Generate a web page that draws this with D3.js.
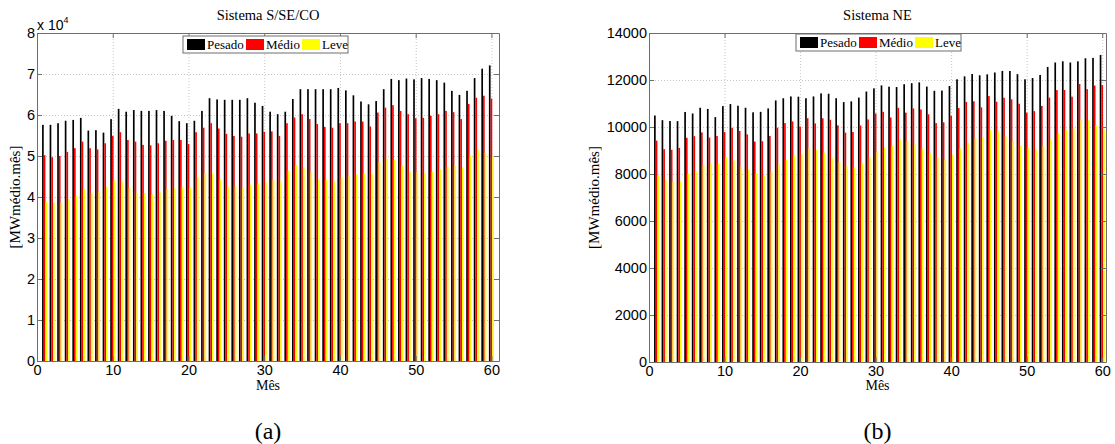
<!DOCTYPE html>
<html lang="pt">
<head>
<meta charset="UTF-8">
<title>Carga por patamar | D3</title>
<style>
    body { margin: 0; background: #fff; }
    .axis text { font-family: "Liberation Sans", Arial, sans-serif; font-size: 14.5px; fill: #000; }
    .axis path, .axis line { stroke: #6e6e6e; }
    .grid line { stroke: #c4c4c4; stroke-dasharray: 1,2; }
    .grid path { stroke: none; }
    .serif { font-family: "Liberation Serif", "Times New Roman", serif; fill: #000; }
</style>
</head>
<body>
<div id="chart"></div>
<script src="https://cdnjs.cloudflare.com/ajax/libs/d3/7.8.5/d3.min.js"></script>
<script>
    // Month numbers and series names
    var months = d3.range(1, 61);
    var seriesNames = ["Pesado", "Médio", "Leve"];
    var seriesColors = ["#000000", "#ff0000", "#ffff00"];

    // Sistema S/SE/CO, MWmédio.mês
    var pesadoSE = [57600, 57600, 58000, 58600, 58800, 59300, 56200, 56300, 55700, 59000,
                    61500, 60800, 61200, 61000, 61000, 61200, 61000, 59800, 58500, 58000,
                    58600, 61000, 64100, 63800, 63700, 63700, 63700, 64100, 63000, 62200,
                    60800, 60200, 60800, 63900, 66300, 66300, 66300, 66300, 66300, 66600,
                    66000, 64800, 63300, 62600, 63400, 66300, 68800, 68500, 68900, 68700,
                    69000, 68800, 68500, 67900, 65900, 64900, 65900, 69000, 71300, 72100];
    var medioSE = [50200, 49700, 50000, 51000, 51900, 53500, 51900, 51600, 53100, 54900,
                   55800, 53900, 53500, 52700, 52600, 53100, 53700, 53900, 53900, 52900,
                   55800, 56900, 58000, 56700, 55400, 54900, 54700, 55500, 55500, 55900,
                   56000, 54900, 58000, 59400, 60200, 59000, 57800, 57100, 56900, 58000,
                   58000, 58400, 58400, 57200, 60600, 61800, 62400, 61000, 60200, 59200,
                   59300, 59800, 60200, 61000, 60700, 59000, 62700, 64200, 64700, 64000];
    var leveSE = [38800, 38600, 38600, 39500, 40200, 41900, 40800, 41200, 42500, 44000,
                  43600, 42200, 41000, 41000, 40600, 41100, 41900, 42100, 42500, 42200,
                  44800, 45800, 45600, 44200, 42500, 42600, 42200, 43000, 43300, 43600,
                  44100, 43700, 46400, 47800, 47200, 46000, 44300, 44100, 43900, 44700,
                  45100, 45500, 45800, 45600, 48500, 49400, 49000, 47600, 46100, 46000,
                  45700, 46100, 46800, 47400, 47600, 47200, 50200, 51600, 50800, 49900];

    // Sistema NE, MWmédio.mês
    var pesadoNE = [10490, 10290, 10255, 10250, 10640, 10575, 10820, 10770, 10420, 10890,
                    10975, 10905, 10820, 10625, 10645, 10790, 11130, 11225, 11300, 11290,
                    11225, 11300, 11430, 11415, 11225, 11060, 11090, 11250, 11510, 11645,
                    11770, 11715, 11700, 11820, 11865, 11900, 11720, 11540, 11550, 11745,
                    12030, 12155, 12255, 12200, 12240, 12320, 12385, 12385, 12250, 12030,
                    12085, 12215, 12555, 12745, 12795, 12745, 12795, 12925, 12940, 13065];
    var medioNE = [9420, 9055, 9030, 9110, 9540, 9610, 9770, 9550, 9615, 9785,
                   9965, 9830, 9685, 9380, 9395, 9615, 9970, 10165, 10235, 10020,
                   10375, 10150, 10370, 10305, 10070, 9760, 9785, 10065, 10320, 10575,
                   10645, 10405, 10815, 10610, 10790, 10745, 10540, 10165, 10200, 10475,
                   10805, 11065, 11095, 10835, 11315, 11075, 11245, 11175, 10990, 10610,
                   10675, 10895, 11250, 11570, 11575, 11290, 11830, 11610, 11765, 11785];
    var leveNE = [7930, 7760, 7650, 7690, 8010, 8110, 8395, 8440, 8440, 8700,
                  8570, 8295, 8180, 8000, 7940, 8110, 8395, 8605, 8780, 8850,
                  9100, 9030, 8915, 8675, 8500, 8330, 8280, 8470, 8710, 8960,
                  9130, 9190, 9475, 9400, 9250, 9080, 8890, 8680, 8610, 8820,
                  9080, 9330, 9515, 9560, 9880, 9800, 9600, 9380, 9200, 9100,
                  9050, 9180, 9460, 9740, 9900, 9930, 10330, 10290, 10070, 9900];

    // Tick labels
    var xTicks = [0, 10, 20, 30, 40, 50, 60];
    var yTicksSE = [0, 10000, 20000, 30000, 40000, 50000, 60000, 70000, 80000];
    var yTicksNE = [0, 2000, 4000, 6000, 8000, 10000, 12000, 14000];

    var svg = d3.select("#chart").append("svg")
        .attr("width", 1115)
        .attr("height", 444);

    // MATLAB style grouped bars: three bars per month, side by side
    var barOffsets = [-0.222, 0, 0.222];
    var barWidth = 0.222;

    function drawPanel(cfg) {
        var plotH = cfg.bottom - cfg.top;
        var plotW = cfg.right - cfg.left;

        var x = d3.scaleLinear().domain([0, cfg.xMax]).range([cfg.left, cfg.right]);
        var y = d3.scaleLinear().domain([0, cfg.yMax]).range([cfg.bottom, cfg.top]);

        var g = svg.append("g");

        // dotted grid
        g.append("g").attr("class", "grid")
            .attr("transform", "translate(0," + cfg.bottom + ")")
            .call(d3.axisBottom(x).tickValues(xTicks).tickSize(-plotH).tickFormat(""));
        g.append("g").attr("class", "grid")
            .attr("transform", "translate(" + cfg.left + ",0)")
            .call(d3.axisLeft(y).tickValues(cfg.yTicks).tickSize(-plotW).tickFormat(""));

        // bars
        cfg.series.forEach(function(vals, s) {
            g.append("g").selectAll("rect")
                .data(vals)
                .enter()
                .append("rect")
                .attr("fill", seriesColors[s])
                .attr("x", function(d, i) { return x(months[i] + barOffsets[s] - barWidth / 2); })
                .attr("width", x(barWidth) - x(0))
                .attr("y", function(d) { return y(d); })
                .attr("height", function(d) { return cfg.bottom - y(d); });
        });

        // axes, ticks pointing inwards on all four sides
        g.append("g").attr("class", "axis")
            .attr("transform", "translate(0," + cfg.bottom + ")")
            .call(d3.axisBottom(x).tickValues(xTicks).tickSizeInner(-5).tickSizeOuter(0).tickPadding(4));
        g.append("g").attr("class", "axis")
            .attr("transform", "translate(0," + cfg.top + ")")
            .call(d3.axisTop(x).tickValues(xTicks).tickSizeInner(-5).tickSizeOuter(0).tickFormat(""));
        g.append("g").attr("class", "axis")
            .attr("transform", "translate(" + cfg.left + ",0)")
            .call(d3.axisLeft(y).tickValues(cfg.yTicks).tickSizeInner(-5).tickSizeOuter(0)
                .tickPadding(2).tickFormat(cfg.yFormat));
        g.append("g").attr("class", "axis")
            .attr("transform", "translate(" + cfg.right + ",0)")
            .call(d3.axisRight(y).tickValues(cfg.yTicks).tickSizeInner(-5).tickSizeOuter(0).tickFormat(""));

        // title
        g.append("text").attr("class", "serif")
            .attr("x", (cfg.left + cfg.right) / 2)
            .attr("y", 20)
            .attr("text-anchor", "middle")
            .style("font-size", "14.5px")
            .text(cfg.title);

        // axis labels
        g.append("text").attr("class", "serif")
            .attr("transform", "translate(" + cfg.yLabelX + "," + (cfg.top + plotH / 2) + ") rotate(-90)")
            .attr("text-anchor", "middle")
            .style("font-size", "15px")
            .text("[MWmédio.mês]");
        g.append("text").attr("class", "serif")
            .attr("x", (cfg.left + cfg.right) / 2)
            .attr("y", 390)
            .attr("text-anchor", "middle")
            .style("font-size", "14px")
            .text("Mês");

        // panel caption
        g.append("text").attr("class", "serif")
            .attr("x", (cfg.left + cfg.right) / 2)
            .attr("y", 439)
            .attr("text-anchor", "middle")
            .style("font-size", "24px")
            .text(cfg.caption);

        // legend
        var lg = g.append("g").attr("transform", "translate(" + cfg.legendX + "," + cfg.legendY + ")");
        lg.append("rect")
            .attr("width", 165).attr("height", 17)
            .attr("fill", "#fff").attr("stroke", "#6e6e6e");
        var entryX = [4, 63, 119];
        seriesNames.forEach(function(name, s) {
            lg.append("rect")
                .attr("x", entryX[s]).attr("y", 3)
                .attr("width", 18).attr("height", 11)
                .attr("fill", seriesColors[s]);
            lg.append("text").attr("class", "serif")
                .attr("x", entryX[s] + 20).attr("y", 13)
                .style("font-size", "13px")
                .text(name);
        });

        return g;
    }

    var gSE = drawPanel({
        left: 37, right: 499, top: 33, bottom: 361,
        xMax: 61, yMax: 80000, yTicks: yTicksSE,
        yFormat: function(d) { return d / 10000; },
        series: [pesadoSE, medioSE, leveSE],
        title: "Sistema S/SE/CO", caption: "(a)",
        yLabelX: 20, legendX: 183, legendY: 36
    });

    // exponent label above the y axis
    var expo = gSE.append("text")
        .attr("x", 37).attr("y", 30)
        .style("font-family", "Liberation Sans, Arial, sans-serif")
        .style("font-size", "14px");
    expo.append("tspan").text("x 10");
    expo.append("tspan").attr("dy", -7).style("font-size", "9px").text("4");

    drawPanel({
        left: 649, right: 1106, top: 33, bottom: 362,
        xMax: 60.5, yMax: 14000, yTicks: yTicksNE,
        yFormat: function(d) { return d; },
        series: [pesadoNE, medioNE, leveNE],
        title: "Sistema NE", caption: "(b)",
        yLabelX: 599, legendX: 796, legendY: 34
    });
</script>
</body>
</html>
